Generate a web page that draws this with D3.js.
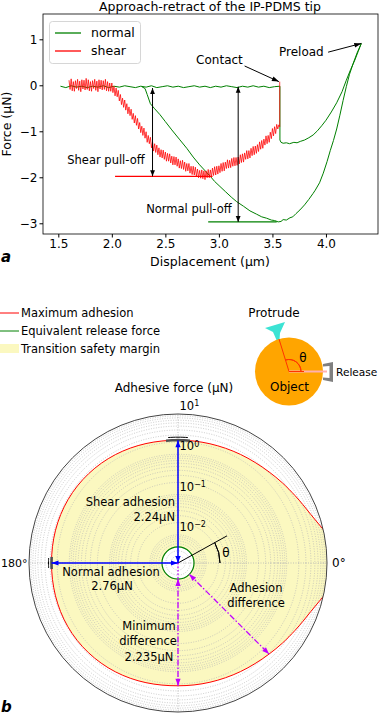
<!DOCTYPE html>
<html>
<head>
<meta charset="utf-8">
<script src="https://cdnjs.cloudflare.com/ajax/libs/d3/7.8.5/d3.min.js"></script>
<style>
  body { margin: 0; background: #fff; }
  svg { font-family: "DejaVu Sans", sans-serif; }
</style>
</head>
<body>
<svg id="chart" width="380" height="716"></svg>
<script>
// ---- panel a : approach-retract curves ----
var xTicks = [1.5, 2.0, 2.5, 3.0, 3.5, 4.0];
var yTicks = [1, 0, -1, -2, -3];

// normal force, approach part (flat, noisy)
var normalApproach = [
  [1.52,-0.02],[1.57,-0.05],[1.62,-0.01],[1.67,-0.04],[1.72,-0.02],[1.77,-0.05],[1.82,-0.02],[1.87,-0.04],
  [1.92,-0.01],[1.97,-0.05],[2.02,-0.02],[2.07,-0.04],[2.12,-0.01],[2.17,-0.03],[2.22,-0.05],[2.27,-0.02],
  [2.32,-0.04],[2.37,-0.01],[2.42,-0.05],[2.47,-0.03],[2.52,-0.01],[2.57,-0.04],[2.62,-0.02],[2.67,-0.05],
  [2.72,-0.03],[2.77,-0.01],[2.82,-0.04],[2.87,-0.02],[2.92,-0.05],[2.97,-0.02],[3.02,-0.04],[3.07,-0.01],
  [3.12,-0.03],[3.17,-0.05],[3.22,-0.02],[3.27,-0.04],[3.32,-0.01],[3.37,-0.04],[3.42,-0.02],[3.47,-0.05],
  [3.52,-0.03],[3.57,-0.02]
];
// normal force, contact -> preload
var normalLoad = [
  [3.57,-1.19],[3.58,-1.24],[3.60,-1.26],[3.63,-1.25],[3.66,-1.27],[3.70,-1.24],[3.73,-1.25],[3.76,-1.22],
  [3.80,-1.19],[3.84,-1.14],[3.88,-1.08],[3.92,-0.99],[3.96,-0.88],[4.00,-0.76],[4.05,-0.58],[4.10,-0.38],
  [4.15,-0.14],[4.19,0.11],[4.23,0.34],[4.27,0.55],[4.30,0.73],[4.33,0.91]
];
// normal force, retract
var normalRetract = [
  [4.33,0.91],[4.29,0.70],[4.255,0.48],[4.22,0.24],[4.19,-0.03],[4.16,-0.33],[4.13,-0.65],[4.10,-0.95],
  [4.07,-1.20],[4.04,-1.42],[4.01,-1.66],[3.975,-1.91],[3.94,-2.12],[3.90,-2.28],[3.88,-2.35],[3.84,-2.48],
  [3.80,-2.60],[3.757,-2.71],[3.72,-2.79],[3.69,-2.86],[3.664,-2.88],[3.63,-2.93],[3.60,-2.92],[3.58,-2.96],
  [3.554,-2.97],[3.52,-2.94],[3.49,-2.93],[3.446,-2.89],[3.40,-2.86],[3.35,-2.80],[3.29,-2.73],[3.23,-2.63],
  [3.166,-2.53],[3.12,-2.44],[3.06,-2.31],[3.01,-2.20],[2.96,-2.09],[2.92,-1.98],[2.88,-1.88],[2.82,-1.73],
  [2.76,-1.56],[2.70,-1.37],[2.63,-1.17],[2.56,-0.97],[2.50,-0.79],[2.45,-0.64],[2.40,-0.51],[2.36,-0.40],
  [2.33,-0.20],[2.31,-0.07],[2.28,-0.03]
];
// shear force (noisy)
var shearCurve = [
  [1.60,0.11],[1.61,-0.09],[1.62,0.14],[1.63,-0.12],[1.64,0.08],[1.65,-0.13],[1.66,0.10],[1.67,-0.07],
  [1.68,0.13],[1.69,-0.11],[1.70,0.09],[1.71,-0.14],[1.72,0.12],[1.73,-0.08],[1.74,0.11],[1.75,-0.10],
  [1.76,0.15],[1.77,-0.09],[1.78,0.12],[1.79,-0.12],[1.80,0.08],[1.81,-0.13],[1.82,0.10],[1.83,-0.07],
  [1.84,0.13],[1.85,-0.11],[1.86,0.09],[1.87,-0.14],[1.88,0.12],[1.89,-0.08],[1.90,0.11],[1.91,-0.10],
  [1.92,0.10],[1.93,-0.09],[1.94,0.13],[1.95,-0.12],[1.96,0.08],[1.97,-0.13],[1.98,0.05],[1.99,-0.13],
  [2.00,0.05],[2.01,-0.16],[2.02,-0.02],[2.03,-0.23],[2.04,-0.06],[2.05,-0.25],[2.06,-0.11],[2.07,-0.34],
  [2.08,-0.20],[2.09,-0.42],[2.10,-0.28],[2.11,-0.48],[2.12,-0.32],[2.13,-0.54],[2.14,-0.40],[2.15,-0.62],
  [2.16,-0.47],[2.17,-0.66],[2.18,-0.52],[2.19,-0.74],[2.20,-0.61],[2.21,-0.82],[2.22,-0.66],[2.23,-0.87],
  [2.24,-0.72],[2.25,-0.95],[2.26,-0.81],[2.27,-1.03],[2.28,-0.89],[2.29,-1.09],[2.30,-0.93],[2.31,-1.15],
  [2.32,-1.01],[2.33,-1.24],[2.34,-1.09],[2.35,-1.27],[2.36,-1.13],[2.37,-1.36],[2.38,-1.23],[2.39,-1.43],
  [2.40,-1.27],[2.41,-1.46],[2.42,-1.30],[2.43,-1.51],[2.44,-1.36],[2.45,-1.56],[2.46,-1.40],[2.47,-1.58],
  [2.48,-1.41],[2.49,-1.61],[2.50,-1.45],[2.51,-1.65],[2.52,-1.48],[2.53,-1.65],[2.54,-1.49],[2.55,-1.69],
  [2.56,-1.54],[2.57,-1.73],[2.58,-1.55],[2.59,-1.73],[2.60,-1.56],[2.61,-1.76],[2.62,-1.60],[2.63,-1.80],
  [2.64,-1.64],[2.65,-1.81],[2.66,-1.63],[2.67,-1.83],[2.68,-1.67],[2.69,-1.87],[2.70,-1.70],[2.71,-1.86],
  [2.72,-1.70],[2.73,-1.91],[2.74,-1.76],[2.75,-1.94],[2.76,-1.76],[2.77,-1.95],[2.78,-1.78],[2.79,-1.98],
  [2.80,-1.82],[2.81,-2.01],[2.82,-1.85],[2.83,-2.02],[2.84,-1.84],[2.85,-2.03],[2.86,-1.86],[2.87,-2.05],
  [2.88,-1.86],[2.89,-2.01],[2.90,-1.83],[2.91,-2.01],[2.92,-1.84],[2.93,-2.00],[2.94,-1.80],[2.95,-1.96],
  [2.96,-1.77],[2.97,-1.95],[2.98,-1.76],[2.99,-1.93],[3.00,-1.75],[3.01,-1.90],[3.02,-1.70],[3.03,-1.87],
  [3.04,-1.68],[3.05,-1.86],[3.06,-1.67],[3.07,-1.81],[3.08,-1.62],[3.09,-1.80],[3.10,-1.63],[3.11,-1.79],
  [3.12,-1.59],[3.13,-1.76],[3.14,-1.57],[3.15,-1.75],[3.16,-1.57],[3.17,-1.74],[3.18,-1.56],[3.19,-1.71],
  [3.20,-1.51],[3.21,-1.68],[3.22,-1.49],[3.23,-1.67],[3.24,-1.47],[3.25,-1.61],[3.26,-1.42],[3.27,-1.60],
  [3.28,-1.42],[3.29,-1.58],[3.30,-1.37],[3.31,-1.53],[3.32,-1.33],[3.33,-1.51],[3.34,-1.32],[3.35,-1.48],
  [3.36,-1.29],[3.37,-1.44],[3.38,-1.23],[3.39,-1.39],[3.40,-1.20],[3.41,-1.37],[3.42,-1.17],[3.43,-1.30],
  [3.44,-1.10],[3.45,-1.27],[3.46,-1.09],[3.47,-1.24],[3.48,-1.02],[3.49,-1.16],[3.50,-0.94],[3.51,-1.10],
  [3.52,-0.90],[3.53,-1.05],[3.54,-0.85],[3.55,-0.95],[3.56,-0.86],[3.568,-0.90],[3.568,0.08]
];
var shearPullOff = { y: -1.98, x0: 2.03, x1: 2.94 };
var normalPullOff = { y: -2.97, x0: 2.90, x1: 3.54 };

// ---- panel b : polar adhesion plot ----
var thetaDeg = [0, 5, 10, 15, 20, 25, 30, 37.5, 45, 52.5, 60, 67.5, 75, 82.5, 90,
  97.5, 105, 112.5, 120, 127.5, 135, 142.5, 150, 157.5, 165, 172.5, 180,
  187.5, 195, 202.5, 210, 217.5, 225, 232.5, 240, 247.5, 255, 262.5, 270,
  277.5, 285, 292.5, 300, 307.5, 315, 322.5, 330, 335, 340, 345, 350, 355];
var maxAdhesion = [40, 25, 13, 8.7, 6.5, 5.3, 4.5, 3.7, 3.15, 2.8, 2.58, 2.42, 2.32, 2.26, 2.24,
  2.27, 2.35, 2.45, 2.56, 2.66, 2.74, 2.8, 2.83, 2.83, 2.81, 2.78, 2.76,
  2.78, 2.82, 2.86, 2.88, 2.86, 2.8, 2.72, 2.62, 2.5, 2.38, 2.28, 2.235,
  2.26, 2.32, 2.42, 2.58, 2.8, 3.15, 3.7, 4.5, 5.3, 6.5, 8.7, 13, 25];
var releaseForce = 0.005;
var shearAdhesion = 2.24, normalAdhesion = 2.76, minDifference = 2.235, diffAngle = 315, diffValue = 3.15;
var markAngles = [90, 180], markValues = [2.24, 2.76], markSpan = [5.6, 2.7];
var rDecades = [0.01, 0.1, 1, 10];
var rDecadeExp = ["\u22122", "\u22121", "0", "1"];

var svg = d3.select("#chart");

// ===================== panel a =====================
var x = d3.scaleLinear().domain([1.357, 4.486]).range([43, 378]);
var y = d3.scaleLinear().domain([1.55, -3.233]).range([14, 234]);

var defs = svg.append("defs");
defs.append("clipPath").attr("id", "clipA")
  .append("rect").attr("x", 43).attr("y", 14).attr("width", 335).attr("height", 220);

var ga = svg.append("g");

ga.append("g").attr("transform", "translate(0,234)")
  .call(d3.axisBottom(x).tickValues(xTicks).tickFormat(d3.format(".1f")).tickSize(3.5).tickPadding(2))
  .call(function(g) { g.select(".domain").remove(); g.selectAll("text").attr("font-size", 12).attr("font-family", "DejaVu Sans"); });
ga.append("g").attr("transform", "translate(43,0)")
  .call(d3.axisLeft(y).tickValues(yTicks).tickFormat(d3.format("d")).tickSize(3.5).tickPadding(2))
  .call(function(g) { g.select(".domain").remove(); g.selectAll("text").attr("font-size", 12).attr("font-family", "DejaVu Sans"); });

var plot = ga.append("g").attr("clip-path", "url(#clipA)");
var line = d3.line().x(function(d) { return x(d[0]); }).y(function(d) { return y(d[1]); });

plot.append("path")
  .attr("d", line(normalApproach.concat(normalLoad, normalRetract.slice(1))))
  .attr("fill", "none").attr("stroke", "#008000").attr("stroke-width", 1);
plot.append("path").attr("d", line(shearCurve))
  .attr("fill", "none").attr("stroke", "#ff0000").attr("stroke-width", 0.9).attr("stroke-opacity", 0.85);

plot.append("line").attr("x1", x(shearPullOff.x0)).attr("x2", x(shearPullOff.x1))
  .attr("y1", y(shearPullOff.y)).attr("y2", y(shearPullOff.y)).attr("stroke", "#ff0000").attr("stroke-width", 1.2);
plot.append("line").attr("x1", x(normalPullOff.x0)).attr("x2", x(normalPullOff.x1))
  .attr("y1", y(normalPullOff.y)).attr("y2", y(normalPullOff.y)).attr("stroke", "#008000").attr("stroke-width", 1.2);

ga.append("rect").attr("x", 43).attr("y", 14).attr("width", 335).attr("height", 220)
  .attr("fill", "none").attr("stroke", "#000").attr("stroke-width", 0.8);

function head(g, x1, y1, x2, y2, color, L, W) {
  var a = Math.atan2(y2 - y1, x2 - x1);
  var bx = x2 - L * Math.cos(a), by = y2 - L * Math.sin(a);
  g.append("path")
    .attr("d", "M" + x2 + "," + y2 + "L" + (bx + W * Math.sin(a)) + "," + (by - W * Math.cos(a)) +
      "L" + (bx - W * Math.sin(a)) + "," + (by + W * Math.cos(a)) + "Z")
    .attr("fill", color);
}
function arrow(g, x1, y1, x2, y2, o) {
  var l = g.append("line").attr("x1", x1).attr("y1", y1).attr("x2", x2).attr("y2", y2)
    .attr("stroke", o.color).attr("stroke-width", o.width || 1);
  if (o.dash) l.attr("stroke-dasharray", o.dash);
  var L = o.L || 7, W = o.W || 2.6;
  if (o.end) head(g, x1, y1, x2, y2, o.color, L, W);
  if (o.start) head(g, x2, y2, x1, y1, o.color, L, W);
}

// pull-off arrows
arrow(ga, x(2.38), y(-0.06), x(2.38), y(shearPullOff.y), { color: "#000", start: true, end: true, L: 6, W: 2.4 });
arrow(ga, x(3.18), y(-0.03), x(3.18), y(normalPullOff.y), { color: "#000", start: true, end: true, L: 6, W: 2.4 });
// annotation arrows
arrow(ga, x(3.24), y(0.42), x(3.56), y(0.08), { color: "#000", end: true, L: 7, W: 2.4 });
arrow(ga, x(4.02), y(0.72), x(4.33), y(0.91), { color: "#000", end: true, L: 7, W: 2.4 });

function label(g, tx, ty, s, anchor, size) {
  return g.append("text").attr("x", tx).attr("y", ty).attr("dy", "0.35em")
    .attr("text-anchor", anchor || "middle").attr("font-size", size || 11.5).text(s);
}
label(ga, x(3.005), y(0.55), "Contact", "middle", 12);
label(ga, x(3.77), y(0.72), "Preload", "middle", 12);
label(ga, x(1.945), y(-1.62), "Shear pull-off");
label(ga, x(2.72), y(-2.69), "Normal pull-off");

label(ga, 210, 7, "Approach-retract of the IP-PDMS tip", "middle", 12.5);
label(ga, 210, 262, "Displacement (\u03bcm)", "middle", 12.5);
ga.append("text").attr("transform", "translate(7,124) rotate(-90)").attr("dy", "0.35em")
  .attr("text-anchor", "middle").attr("font-size", 12.5).text("Force (\u03bcN)");
ga.append("text").attr("x", 1).attr("y", 262).attr("font-size", 15).attr("font-weight", "bold")
  .attr("font-style", "italic").text("a");

// legend
var lg = ga.append("g");
lg.append("rect").attr("x", 49.5).attr("y", 21.5).attr("width", 91).attr("height", 42).attr("rx", 3)
  .attr("fill", "#fff").attr("fill-opacity", 0.8).attr("stroke", "#ccc").attr("stroke-width", 0.8);
lg.append("line").attr("x1", 55).attr("x2", 81).attr("y1", 33).attr("y2", 33).attr("stroke", "#008000").attr("stroke-width", 1.3);
lg.append("line").attr("x1", 55).attr("x2", 81).attr("y1", 51).attr("y2", 51).attr("stroke", "#ff0000").attr("stroke-width", 1.3);
label(lg, 91, 33, "normal", "start", 12.5);
label(lg, 91, 51, "shear", "start", 12.5);

// ===================== panel b =====================
var cx = 178, cy = 563, R = 149;
var r = d3.scaleLog().domain([0.002, 10]).range([0, R]);
function px(deg, v) { return cx + r(v) * Math.cos(deg * Math.PI / 180); }
function py(deg, v) { return cy - r(v) * Math.sin(deg * Math.PI / 180); }

defs.append("clipPath").attr("id", "clipB").append("circle").attr("cx", cx).attr("cy", cy).attr("r", R);

var gb = svg.append("g");
var pts = thetaDeg.map(function(t, i) { return [px(t, maxAdhesion[i]), py(t, maxAdhesion[i])]; });
var loopLine = d3.line().curve(d3.curveCatmullRomClosed);
var rg = r(releaseForce);

// transition safety margin
var inner = "M" + (cx + rg) + "," + cy + "A" + rg + "," + rg + " 0 1,0 " + (cx - rg) + "," + cy +
  "A" + rg + "," + rg + " 0 1,0 " + (cx + rg) + "," + cy + "Z";
gb.append("path").attr("clip-path", "url(#clipB)")
  .attr("d", loopLine(pts) + inner).attr("fill-rule", "evenodd").attr("fill", "#fbf8c0");

// grid circles
var minor = [];
[0.001, 0.01, 0.1, 1].forEach(function(dec) {
  for (var k = 1; k <= 9; k++) { var v = dec * k; if (v > 0.0021 && v < 9.99) minor.push(v); }
});
gb.append("g").selectAll("circle").data(minor).enter().append("circle")
  .attr("cx", cx).attr("cy", cy).attr("r", function(d) { return r(d); })
  .attr("fill", "none").attr("stroke", "#b4b4b4").attr("stroke-width", 0.7).attr("stroke-dasharray", "1,1.5");
gb.append("g").selectAll("line").data([0, 90, 180, 270]).enter().append("line")
  .attr("x1", cx).attr("y1", cy)
  .attr("x2", function(d) { return px(d, 10); }).attr("y2", function(d) { return py(d, 10); })
  .attr("stroke", "#b4b4b4").attr("stroke-width", 0.8).attr("stroke-dasharray", "1,1.5");

// max adhesion curve
gb.append("path").attr("clip-path", "url(#clipB)").attr("d", loopLine(pts))
  .attr("fill", "none").attr("stroke", "#ff0000").attr("stroke-width", 1);
// outer frame
gb.append("circle").attr("cx", cx).attr("cy", cy).attr("r", R)
  .attr("fill", "none").attr("stroke", "#444").attr("stroke-width", 1);
// release force circle
gb.append("circle").attr("cx", cx).attr("cy", cy).attr("r", rg)
  .attr("fill", "none").attr("stroke", "#008000").attr("stroke-width", 1.2);

// measured marks
markAngles.forEach(function(t, i) {
  var v = markValues[i], s = markSpan[i];
  var arc = d3.range(t - s, t + s + 0.01, s / 4).map(function(a) { return [px(a, v), py(a, v)]; });
  gb.append("path").attr("d", d3.line()(arc)).attr("fill", "none").attr("stroke", "#505050").attr("stroke-width", 2.6);
  var rv = r(v) + 3;
  var cap = d3.range(t - s * 0.8, t + s * 0.8 + 0.01, s / 5).map(function(a) {
    return [cx + rv * Math.cos(a * Math.PI / 180), cy - rv * Math.sin(a * Math.PI / 180)];
  });
  gb.append("path").attr("d", d3.line()(cap)).attr("fill", "none").attr("stroke", "#000").attr("stroke-width", 1);
});

// theta marker
var tA = 29;
gb.append("line").attr("x1", cx).attr("y1", cy)
  .attr("x2", cx + 56 * Math.cos(tA * Math.PI / 180)).attr("y2", cy - 56 * Math.sin(tA * Math.PI / 180))
  .attr("stroke", "#000").attr("stroke-width", 1);
gb.append("path").attr("d", d3.arc()({ innerRadius: 42, outerRadius: 42, startAngle: Math.PI / 2 - tA * Math.PI / 180, endAngle: Math.PI / 2 }))
  .attr("transform", "translate(" + cx + "," + cy + ")").attr("fill", "none").attr("stroke", "#000").attr("stroke-width", 1);
label(gb, 226, 553, "\u03b8", "middle", 12);

// adhesion arrows
var blue = "#0000ff", mag = "#bf00ff";
arrow(gb, cx, cy, cx, py(90, shearAdhesion), { color: blue, width: 1.5, start: true, end: true });
arrow(gb, cx, cy, px(180, normalAdhesion), cy, { color: blue, width: 1.5, start: true, end: true });
gb.append("line").attr("x1", cx).attr("y1", cy).attr("x2", cx).attr("y2", cy + rg)
  .attr("stroke", mag).attr("stroke-width", 1.3).attr("stroke-dasharray", "1.5,2");
arrow(gb, cx, py(270, releaseForce), cx, py(270, minDifference),
  { color: mag, width: 1.3, start: true, end: true, dash: "6,2,1.5,2" });
arrow(gb, px(diffAngle, releaseForce), py(diffAngle, releaseForce), px(diffAngle, diffValue), py(diffAngle, diffValue),
  { color: mag, width: 1.3, start: true, end: true, dash: "6,2,1.5,2" });

// radial tick labels
rDecades.forEach(function(v, i) {
  var t = gb.append("text").attr("x", cx + 1.5).attr("y", cy - r(v) - 8).attr("dy", "0.35em")
    .attr("font-size", 11.5).text("10");
  t.append("tspan").attr("dy", "-0.45em").attr("font-size", 8).text(rDecadeExp[i]);
});
label(gb, 27.5, cy, "180\u00b0", "end", 11);
label(gb, cx + R + 5, cy, "0\u00b0", "start", 12);
label(gb, 174, 388, "Adhesive force (\u03bcN)", "middle", 12);

label(gb, 175, 502, "Shear adhesion", "end");
label(gb, 175, 517, "2.24\u03bcN", "end");
label(gb, 111, 572, "Normal adhesion");
label(gb, 112, 586, "2.76\u03bcN");
label(gb, 256, 588, "Adhesion");
label(gb, 256, 603, "difference");
label(gb, 149, 626, "Minimum");
label(gb, 148, 641, "difference");
label(gb, 149, 657, "2.235\u03bcN");
gb.append("text").attr("x", 1).attr("y", 712).attr("font-size", 15).attr("font-weight", "bold")
  .attr("font-style", "italic").text("b");

// legend b
var lb = svg.append("g");
lb.append("line").attr("x1", 0).attr("x2", 19).attr("y1", 313).attr("y2", 313).attr("stroke", "#ff0000").attr("stroke-width", 1);
lb.append("line").attr("x1", 0).attr("x2", 19).attr("y1", 331).attr("y2", 331).attr("stroke", "#008000").attr("stroke-width", 1);
lb.append("rect").attr("x", 0).attr("y", 344).attr("width", 19).attr("height", 9).attr("fill", "#fbf8c0");
label(lb, 21, 313, "Maximum adhesion", "start");
label(lb, 21, 331, "Equivalent release force", "start");
label(lb, 21, 349, "Transition safety margin", "start");

// object sketch
var ob = svg.append("g");
var ox = 289, oy = 371.5, orad = 34;
ob.append("path").attr("d", "M265,328L285,322L280,333L279.5,340L276.5,340L273,332Z").attr("fill", "#3ce3d4");
ob.append("circle").attr("cx", ox).attr("cy", oy).attr("r", orad).attr("fill", "#ffa500");
ob.append("line").attr("x1", ox).attr("y1", oy).attr("x2", 279).attr("y2", 339).attr("stroke", "#ff3300").attr("stroke-width", 1);
ob.append("line").attr("x1", ox).attr("y1", oy).attr("x2", 327).attr("y2", oy).attr("stroke", "#ffb0b0").attr("stroke-width", 2);
ob.append("line").attr("x1", ox).attr("y1", oy).attr("x2", 304).attr("y2", oy).attr("stroke", "#ff3300").attr("stroke-width", 1);
ob.append("path").attr("d", "M323,364L333,362L333,382L323,380L323,377.5L329.5,378L329.5,366L323,366.5Z").attr("fill", "#808080");
ob.append("path").attr("d", d3.arc()({ innerRadius: 12, outerRadius: 12, startAngle: -0.29, endAngle: Math.PI / 2 }))
  .attr("transform", "translate(" + ox + "," + oy + ")").attr("fill", "none").attr("stroke", "#ff3300").attr("stroke-width", 1);
label(ob, 303, 358, "\u03b8", "middle", 12);
label(ob, 274, 313, "Protrude", "middle", 12);
label(ob, 336, 372, "Release", "start", 10.6);
label(ob, 289.5, 387, "Object", "middle", 12);
</script>
</body>
</html>
